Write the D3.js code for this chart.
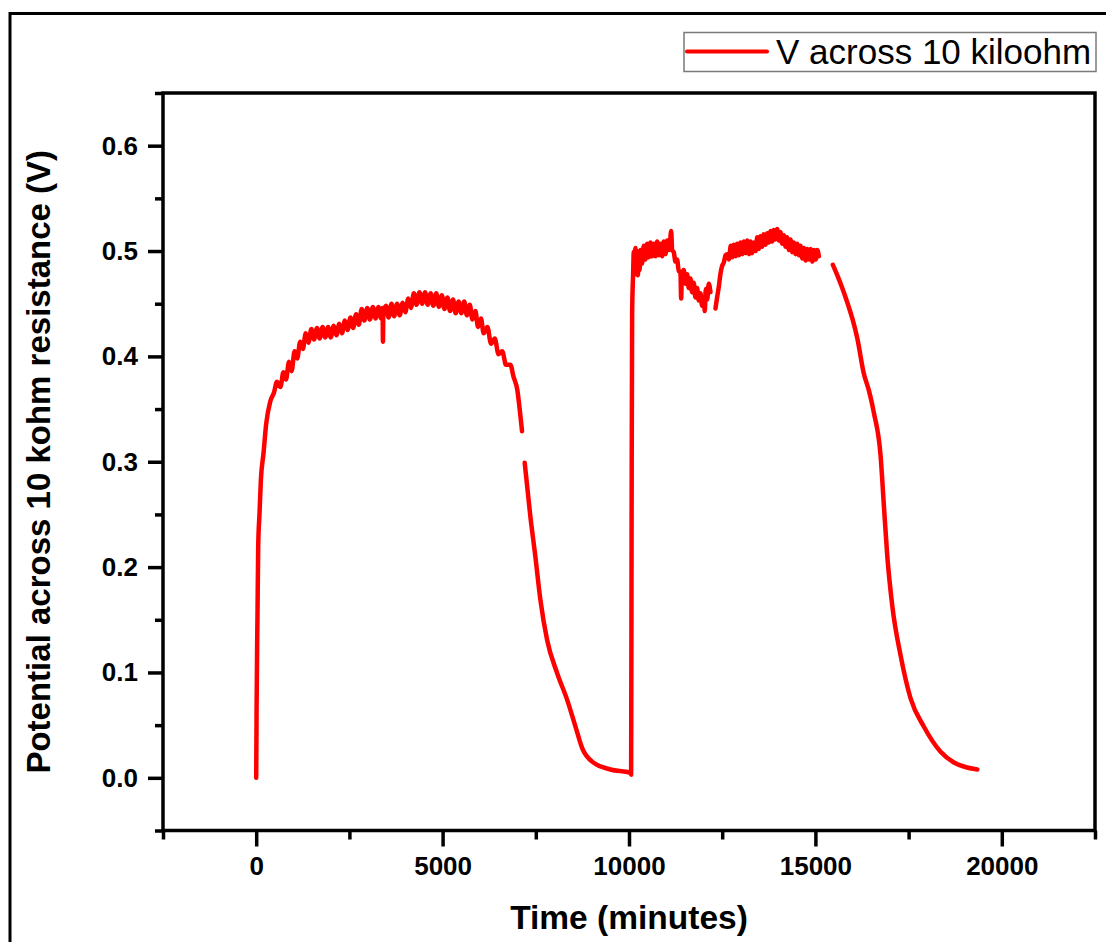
<!DOCTYPE html>
<html>
<head>
<meta charset="utf-8">
<script src="https://cdn.jsdelivr.net/npm/d3@7/dist/d3.min.js"></script>
<style>
  html, body { margin: 0; padding: 0; background: #ffffff; }
  svg { display: block; }
  text { font-family: "Liberation Sans", Arial, sans-serif; fill: #000; }
</style>
</head>
<body>
<svg id="chart" width="1106" height="942"></svg>
<script>
// Logged potential across the 10 kΩ load resistor (two feeding cycles).
// null entries mark breaks in the logged record.
const timeMin = [
  0, 5, 10, 35, 54, 89, 126, 196, 268, 376, 480, 556, 650, 730, 800, 880, 950, 1030, 1100, 1180,
  1250, 1330, 1400, 1480, 1550, 1630, 1700, 1780, 1850, 1930, 2000, 2080, 2150, 2230, 2300, 2380,
  2450, 2530, 2600, 2680, 2750, 2830, 2900, 2980, 3050, 3130, 3200, 3280, 3350, 3390, 3400, 3410,
  3480, 3550, 3630, 3700, 3780, 3850, 3930, 4000, 4080, 4150, 4230, 4300, 4380, 4450, 4530, 4600,
  4680, 4750, 4830, 4900, 4980, 5050, 5130, 5200, 5280, 5350, 5430, 5500, 5580, 5650, 5730, 5800,
  5880, 5950, 6030, 6100, 6200, 6300, 6400, 6500, 6600, 6700, 6818, 6900, 7005, 7086, 7131,
  null,
  7202, 7354, 7488, 7623, 7802, 8071, 8339, 8562, 8741, 9054, 9501, 10038, 10057,
  10070, 10084, 10110, 10128, 10150, 10172, 10195, 10218, 10240, 10262, 10285, 10307, 10350, 10396,
  10440, 10487, 10530, 10575, 10620, 10664, 10710, 10755, 10800, 10843, 10890, 10932, 10980, 11023,
  11080, 11131, 11158, 11200, 11246, 11290, 11335, 11380, 11399, 11420, 11469, 11515, 11560, 11600,
  11648, 11690, 11737, 11780, 11828, 11870, 11917, 11960, 12006, 12033, 12060, 12097, 12140, 12185,
  null,
  12320, 12365, 12409, 12454, 12500, 12543, 12590, 12634, 12680, 12730, 12770, 12811, 12860, 12900,
  12950, 12990, 13040, 13080, 13130, 13170, 13220, 13260, 13300, 13348, 13400, 13440, 13480, 13527,
  13570, 13610, 13660, 13707, 13750, 13800, 13840, 13884, 13930, 13975, 14020, 14060, 14110, 14153,
  14200, 14240, 14290, 14333, 14380, 14420, 14470, 14512, 14560, 14600, 14650, 14690, 14740, 14780,
  14830, 14870, 14920, 14960, 15010, 15050, 15093,
  null,
  15468, 15600, 15720, 15854, 15990, 16122, 16300, 16440, 16569, 16748, 16837, 16927, 17061, 17285,
  17553, 17911, 18358, 18716, 19000, 19344
];

const potentialV = [
  0.000, 0.030, 0.065, 0.156, 0.220, 0.251, 0.283, 0.308, 0.336, 0.357, 0.366, 0.376, 0.371, 0.385, 0.378, 0.395, 0.386, 0.405, 0.398, 0.414,
  0.407, 0.422, 0.413, 0.426, 0.416, 0.427, 0.417, 0.428, 0.418, 0.428, 0.418, 0.429, 0.420, 0.431, 0.422, 0.434,
  0.425, 0.437, 0.427, 0.440, 0.430, 0.445, 0.434, 0.446, 0.435, 0.447, 0.436, 0.447, 0.436, 0.446, 0.414, 0.440,
  0.448, 0.437, 0.450, 0.438, 0.450, 0.439, 0.451, 0.442, 0.455, 0.446, 0.460, 0.449, 0.461, 0.450, 0.461, 0.449,
  0.460, 0.448, 0.460, 0.447, 0.458, 0.445, 0.456, 0.443, 0.454, 0.441, 0.452, 0.441, 0.452, 0.439, 0.449, 0.435,
  0.443, 0.428, 0.436, 0.422, 0.428, 0.412, 0.417, 0.402, 0.405, 0.392, 0.392, 0.381, 0.368, 0.344, 0.329,
  null,
  0.299, 0.248, 0.210, 0.169, 0.131, 0.0995, 0.0742, 0.0489, 0.0284, 0.0142, 0.0079, 0.0047, 0.003,
  0.250, 0.440, 0.478, 0.499, 0.486, 0.503, 0.478, 0.500, 0.477, 0.496, 0.482, 0.501, 0.488, 0.505,
  0.492, 0.507, 0.494, 0.508, 0.495, 0.507, 0.495, 0.509, 0.496, 0.507, 0.495, 0.509, 0.497, 0.510,
  0.501, 0.519, 0.501, 0.499, 0.490, 0.492, 0.481, 0.480, 0.455, 0.478, 0.482, 0.469, 0.478, 0.465,
  0.474, 0.461, 0.470, 0.456, 0.465, 0.453, 0.460, 0.448, 0.454, 0.443, 0.464, 0.454, 0.469, 0.461,
  null,
  0.4455, 0.4565, 0.466, 0.4786, 0.486, 0.489, 0.496, 0.497, 0.492, 0.505, 0.494, 0.506, 0.495, 0.507,
  0.496, 0.508, 0.497, 0.509, 0.498, 0.510, 0.497, 0.509, 0.498, 0.508, 0.500, 0.513, 0.502, 0.514,
  0.504, 0.516, 0.506, 0.517, 0.508, 0.519, 0.509, 0.520, 0.511, 0.521, 0.510, 0.518, 0.507, 0.515,
  0.504, 0.513, 0.501, 0.511, 0.499, 0.508, 0.497, 0.507, 0.496, 0.505, 0.493, 0.503, 0.491, 0.502,
  0.492, 0.502, 0.490, 0.501, 0.492, 0.501, 0.495,
  null,
  0.487, 0.476, 0.465, 0.4514, 0.436, 0.4175, 0.3836, 0.367, 0.3464, 0.3058, 0.2584, 0.211, 0.1636, 0.1162,
  0.0755, 0.0485, 0.0248, 0.0146, 0.0105, 0.0079
];

const xMajorTicks = [0, 5000, 10000, 15000, 20000];
const xMinorTicks = [-2500, 2500, 7500, 12500, 17500, 22500];
const yMajorTicks = [0.0, 0.1, 0.2, 0.3, 0.4, 0.5, 0.6];
const yMinorTicks = [-0.05, 0.05, 0.15, 0.25, 0.35, 0.45, 0.55, 0.65];

const seriesName = "V across 10 kiloohm";
const xTitle = "Time (minutes)";
const yTitle = "Potential across 10 kohm resistance (V)";

const points = timeMin.map((t, i) => ({ t: t, v: potentialV[i] }));

const svg = d3.select("#chart");
const plot = { left: 163, right: 1095, top: 93, bottom: 830.5 };
const axisWidth = 3.5;

// outer page frame (runs off the right and bottom edges)
svg.append("rect")
  .attr("x", 10).attr("y", 13.5)
  .attr("width", 1200).attr("height", 1000)
  .attr("fill", "none").attr("stroke", "#000").attr("stroke-width", 3);

const x = d3.scaleLinear().domain([-2500, 22500]).range([plot.left, plot.right]);
const y = d3.scaleLinear().domain([-0.05, 0.65]).range([plot.bottom, plot.top]);

function styleAxis(g) {
  g.select(".domain").remove();
  g.selectAll(".tick line").attr("stroke", "#000").attr("stroke-width", axisWidth);
  g.selectAll(".tick text")
    .attr("font-size", 26).attr("font-weight", "bold")
    .attr("font-family", "'Liberation Sans', Arial, sans-serif");
}

// minor ticks
svg.append("g").attr("transform", `translate(0,${plot.bottom})`)
  .call(d3.axisBottom(x).tickValues(xMinorTicks).tickSize(9).tickFormat(""))
  .call(styleAxis);
svg.append("g").attr("transform", `translate(${plot.left},0)`)
  .call(d3.axisLeft(y).tickValues(yMinorTicks).tickSize(8).tickFormat(""))
  .call(styleAxis);

// major ticks with labels
svg.append("g").attr("transform", `translate(0,${plot.bottom})`)
  .call(d3.axisBottom(x).tickValues(xMajorTicks).tickSize(16).tickPadding(10).tickFormat(d3.format("d")))
  .call(styleAxis);
svg.append("g").attr("transform", `translate(${plot.left},0)`)
  .call(d3.axisLeft(y).tickValues(yMajorTicks).tickSize(15).tickPadding(10).tickFormat(d3.format(".1f")))
  .call(styleAxis);

// plot frame
svg.append("rect")
  .attr("x", plot.left).attr("y", plot.top)
  .attr("width", plot.right - plot.left).attr("height", plot.bottom - plot.top)
  .attr("fill", "none").attr("stroke", "#000").attr("stroke-width", axisWidth);

// data trace
const line = d3.line()
  .defined(d => d.t != null && d.v != null)
  .curve(d3.curveMonotoneX)
  .x(d => x(d.t))
  .y(d => y(d.v));

svg.append("path")
  .datum(points)
  .attr("d", line)
  .attr("fill", "none")
  .attr("stroke", "#ff0000")
  .attr("stroke-width", 4.5)
  .attr("stroke-linejoin", "round")
  .attr("stroke-linecap", "round");

// axis titles
svg.append("text")
  .attr("x", (plot.left + plot.right) / 2).attr("y", 929)
  .attr("text-anchor", "middle")
  .attr("font-size", 33.5).attr("font-weight", "bold")
  .text(xTitle);

svg.append("text")
  .attr("transform", `translate(50,${(plot.top + plot.bottom) / 2}) rotate(-90)`)
  .attr("text-anchor", "middle")
  .attr("font-size", 33).attr("font-weight", "bold")
  .text(yTitle);

// legend
const legend = svg.append("g");
legend.append("rect")
  .attr("x", 684).attr("y", 32.5).attr("width", 412).attr("height", 39)
  .attr("fill", "#fff").attr("stroke", "#7a7a7a").attr("stroke-width", 1.5);
legend.append("line")
  .attr("x1", 687).attr("x2", 767).attr("y1", 51.5).attr("y2", 51.5)
  .attr("stroke", "#ff0000").attr("stroke-width", 4).attr("stroke-linecap", "round");
legend.append("text")
  .attr("x", 776).attr("y", 63.5)
  .attr("font-size", 35)
  .text(seriesName);
</script>
</body>
</html>
